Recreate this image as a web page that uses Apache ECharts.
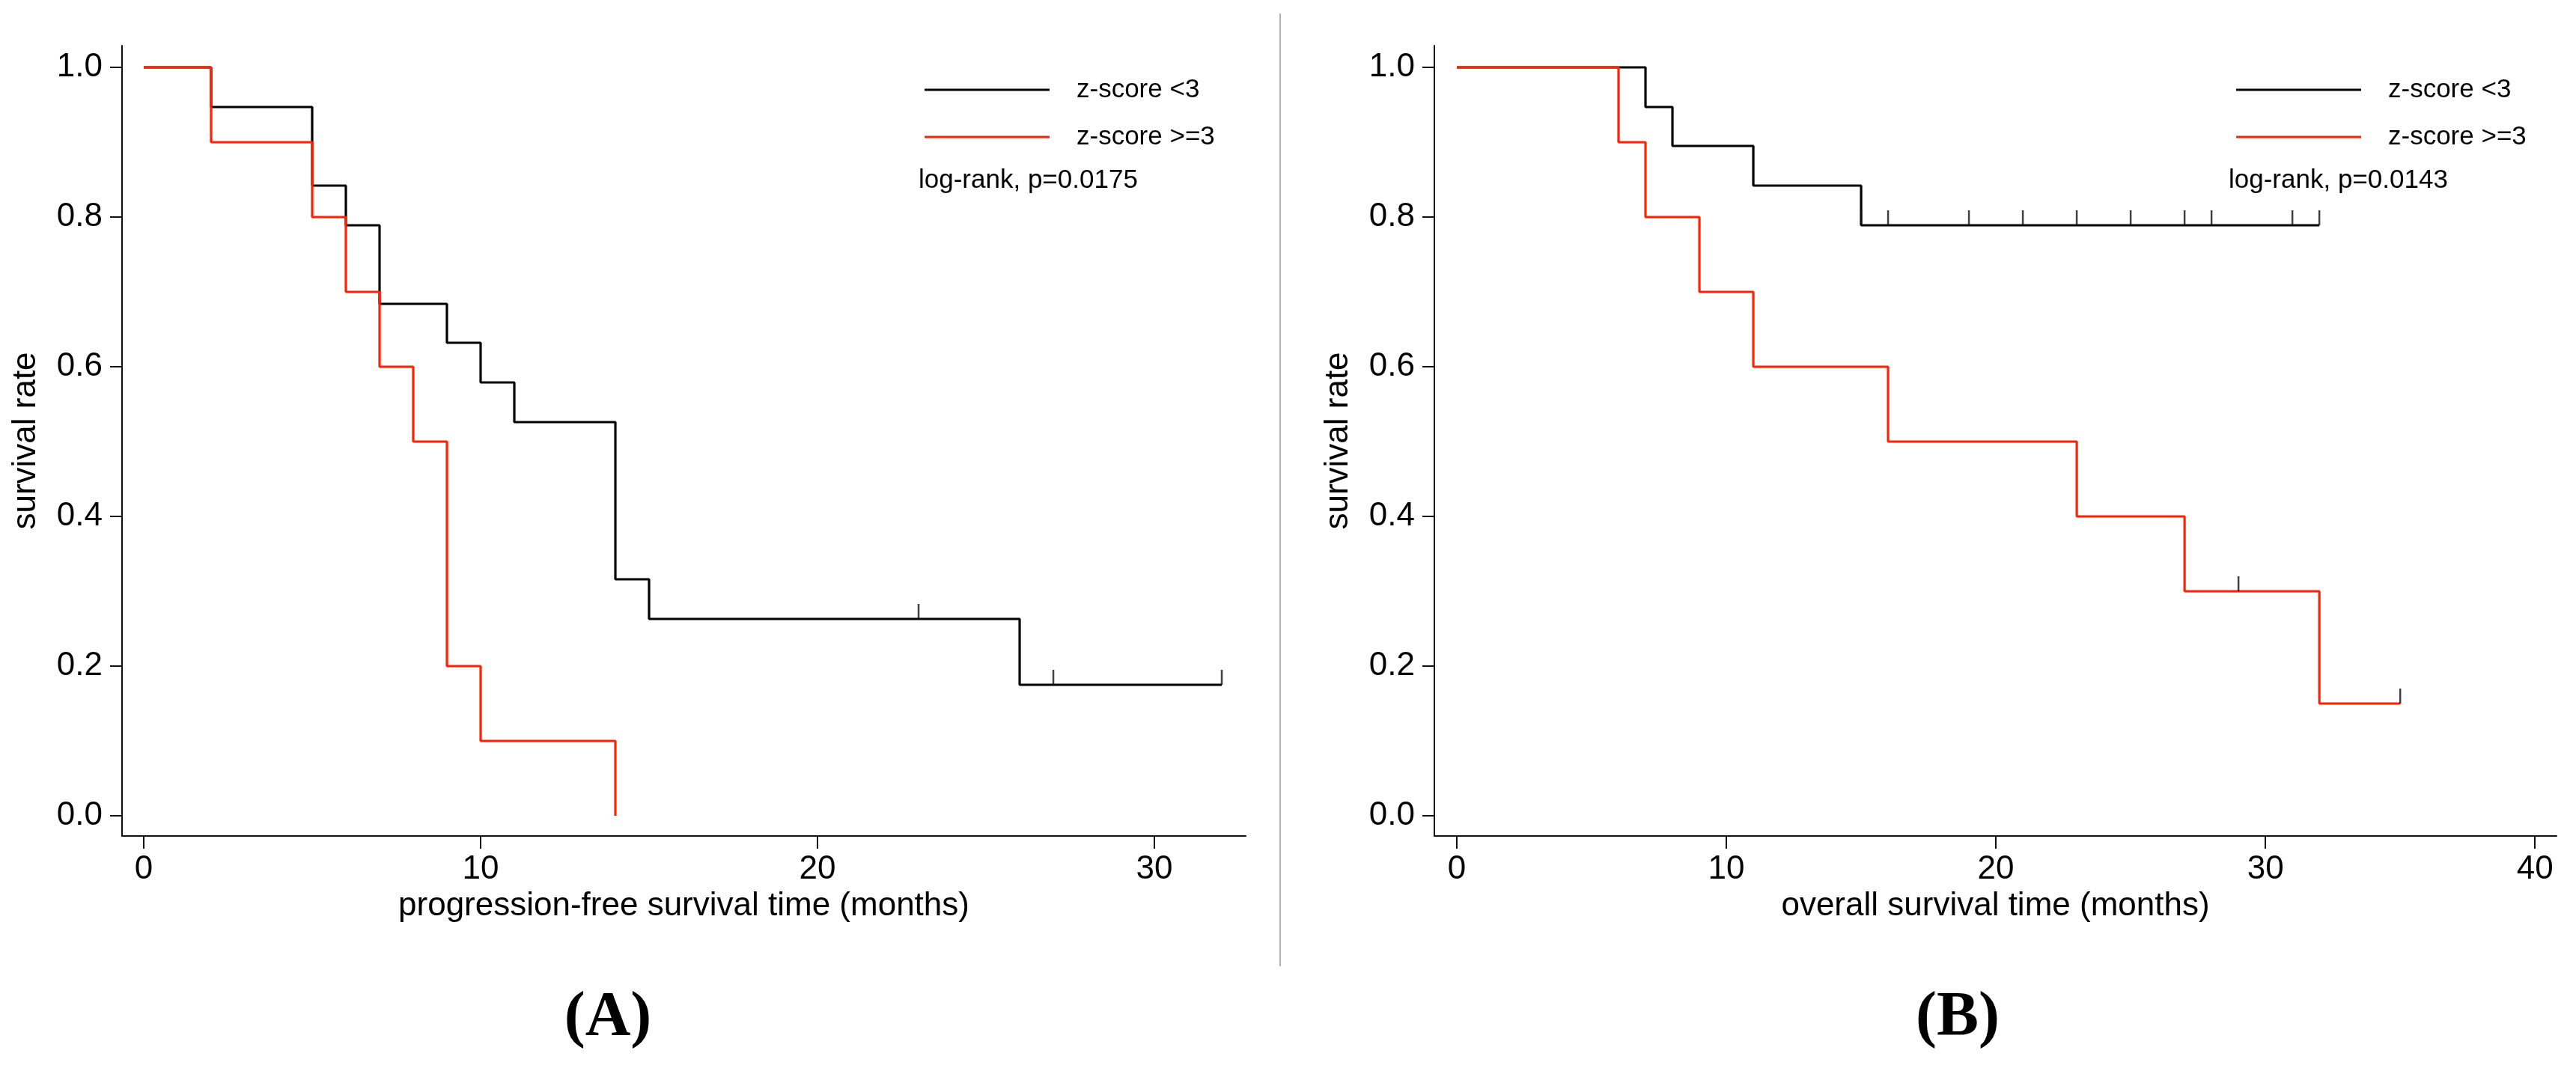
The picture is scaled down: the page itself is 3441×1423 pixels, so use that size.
<!DOCTYPE html>
<html>
<head>
<meta charset="utf-8">
<script src="https://cdn.jsdelivr.net/npm/echarts@6/dist/echarts.min.js"></script>
<style>
html,body{margin:0;padding:0;background:#fff;}
#c{width:3441px;height:1423px;}
</style>
</head>
<body>
<div id="c"></div>
<script>
// ---- Data ----
var seriesNames = ['z-score <3', 'z-score >=3'];
// Panel A: progression-free survival
var pfsLowTime  = [0, 2, 5, 6, 7, 9, 10, 11, 14, 15, 26, 32];
var pfsLowSurv  = [1, 0.947, 0.842, 0.789, 0.684, 0.632, 0.579, 0.526, 0.316, 0.263, 0.175, 0.175];
var pfsLowCensTime = [23, 27, 32];
var pfsLowCensSurv = [0.263, 0.175, 0.175];
var pfsHighTime = [0, 2, 5, 6, 7, 8, 9, 10, 14];
var pfsHighSurv = [1, 0.9, 0.8, 0.7, 0.6, 0.5, 0.2, 0.1, 0];
// Panel B: overall survival
var osLowTime  = [0, 7, 8, 11, 15, 32];
var osLowSurv  = [1, 0.947, 0.895, 0.842, 0.789, 0.789];
var osLowCensTime = [15, 16, 19, 21, 23, 25, 27, 28, 31, 32];
var osLowCensSurv = [0.789, 0.789, 0.789, 0.789, 0.789, 0.789, 0.789, 0.789, 0.789, 0.789];
var osHighTime = [0, 6, 7, 9, 11, 16, 23, 27, 32, 35];
var osHighSurv = [1, 0.9, 0.8, 0.7, 0.6, 0.5, 0.4, 0.3, 0.15, 0.15];
var osHighCensTime = [29, 35];
var osHighCensSurv = [0.3, 0.15];
var yTicks = [0, 0.2, 0.4, 0.6, 0.8, 1.0];
var xTicksA = [0, 10, 20, 30];
var xTicksB = [0, 10, 20, 30, 40];
var pTextA = 'log-rank, p=0.0175';
var pTextB = 'log-rank, p=0.0143';
var xTitleA = 'progression-free survival time (months)';
var xTitleB = 'overall survival time (months)';
var yTitle = 'survival rate';
var panelLabels = ['(A)', '(B)'];

// ---- Styles ----
var FONT = 'Liberation Sans, Arial, Helvetica, sans-serif';
var BLACK = '#000000';
var RED = '#ff2200';
function zip(a, b) { return a.map(function (v, i) { return [v, b[i]]; }); }

function xAxis(idx, min, max, ticks, title) {
  return {
    type: 'value', gridIndex: idx, min: min, max: max,
    splitLine: {show: false},
    axisLine: {show: true, onZero: false, lineStyle: {color: '#111', width: 2}},
    axisTick: {show: true, length: 17, lineStyle: {color: '#111', width: 2}, customValues: ticks},
    axisLabel: {customValues: ticks, margin: 23, fontSize: 44, color: '#000', fontFamily: FONT},
    name: title, nameLocation: 'middle', nameGap: 71,
    nameTextStyle: {fontSize: 44, color: '#000', fontFamily: FONT}
  };
}
function yAxis(idx) {
  return {
    type: 'value', gridIndex: idx, min: -0.027, max: 1.029,
    splitLine: {show: false},
    axisLine: {show: true, onZero: false, lineStyle: {color: '#111', width: 2}},
    axisTick: {show: true, length: 16, lineStyle: {color: '#111', width: 2}, customValues: yTicks},
    axisLabel: {customValues: yTicks, margin: 26, fontSize: 44, color: '#000', fontFamily: FONT,
      formatter: function (v) { return v.toFixed(1); }},
    name: yTitle, nameLocation: 'middle', nameGap: 106, nameRotate: 90,
    nameTextStyle: {fontSize: 44, color: '#000', fontFamily: FONT}
  };
}
function km(name, idx, times, surv, color) {
  return {
    name: name, type: 'line', xAxisIndex: idx, yAxisIndex: idx, step: 'end',
    data: zip(times, surv), showSymbol: false, symbol: 'none', color: color,
    lineStyle: {color: color, width: 3.2}, z: color === RED ? 4 : 3, silent: true
  };
}
function cens(idx, times, surv) {
  return {
    name: 'censored', type: 'scatter', xAxisIndex: idx, yAxisIndex: idx,
    data: zip(times, surv), symbol: 'rect', symbolSize: [2.5, 20], symbolOffset: [0, -10],
    itemStyle: {color: '#111'}, z: 5, silent: true
  };
}
// legend sample: 167px line followed by an empty gap before the label
var LEGEND_ICON = 'path://M0,0H167V3H0Z M198,0L198,3';
function legend(left) {
  return {
    data: seriesNames, orient: 'vertical', left: left, top: 95,
    icon: LEGEND_ICON, itemWidth: 198, itemHeight: 3, itemGap: 23,
    selectedMode: false,
    textStyle: {fontSize: 35, color: '#000', fontFamily: FONT, lineHeight: 40}
  };
}

var chart = echarts.init(document.getElementById('c'), null, {renderer: 'canvas'});
chart.setOption({
  backgroundColor: '#fff',
  animation: false,
  grid: [
    {left: 163, top: 61, width: 1501, height: 1056},
    {left: 1916, top: 61, width: 1499, height: 1056}
  ],
  xAxis: [xAxis(0, -0.644, 32.71, xTicksA, xTitleA), xAxis(1, -0.833, 40.8, xTicksB, xTitleB)],
  yAxis: [yAxis(0), yAxis(1)],
  legend: [legend(1230), legend(2982)],
  series: [
    km(seriesNames[0], 0, pfsLowTime, pfsLowSurv, BLACK),
    km(seriesNames[1], 0, pfsHighTime, pfsHighSurv, RED),
    cens(0, pfsLowCensTime, pfsLowCensSurv),
    km(seriesNames[0], 1, osLowTime, osLowSurv, BLACK),
    km(seriesNames[1], 1, osHighTime, osHighSurv, RED),
    cens(1, osLowCensTime, osLowCensSurv),
    cens(1, osHighCensTime, osHighCensSurv)
  ],
  graphic: [
    {type: 'line', shape: {x1: 1710, y1: 18, x2: 1710, y2: 1291}, style: {stroke: '#b4b4b4', lineWidth: 2}},
    {type: 'text', left: 1227, top: 224, style: {text: pTextA, fontSize: 35, fill: '#000', fontFamily: FONT}},
    {type: 'text', left: 2977, top: 224, style: {text: pTextB, fontSize: 35, fill: '#000', fontFamily: FONT}},
    {type: 'text', x: 812, y: 1361, style: {text: panelLabels[0], fontSize: 84, fontWeight: 'bold', fill: '#000',
      fontFamily: 'Liberation Serif, Times New Roman, serif', align: 'center', verticalAlign: 'middle'}},
    {type: 'text', x: 2615, y: 1361, style: {text: panelLabels[1], fontSize: 84, fontWeight: 'bold', fill: '#000',
      fontFamily: 'Liberation Serif, Times New Roman, serif', align: 'center', verticalAlign: 'middle'}}
  ]
});
</script>
</body>
</html>
